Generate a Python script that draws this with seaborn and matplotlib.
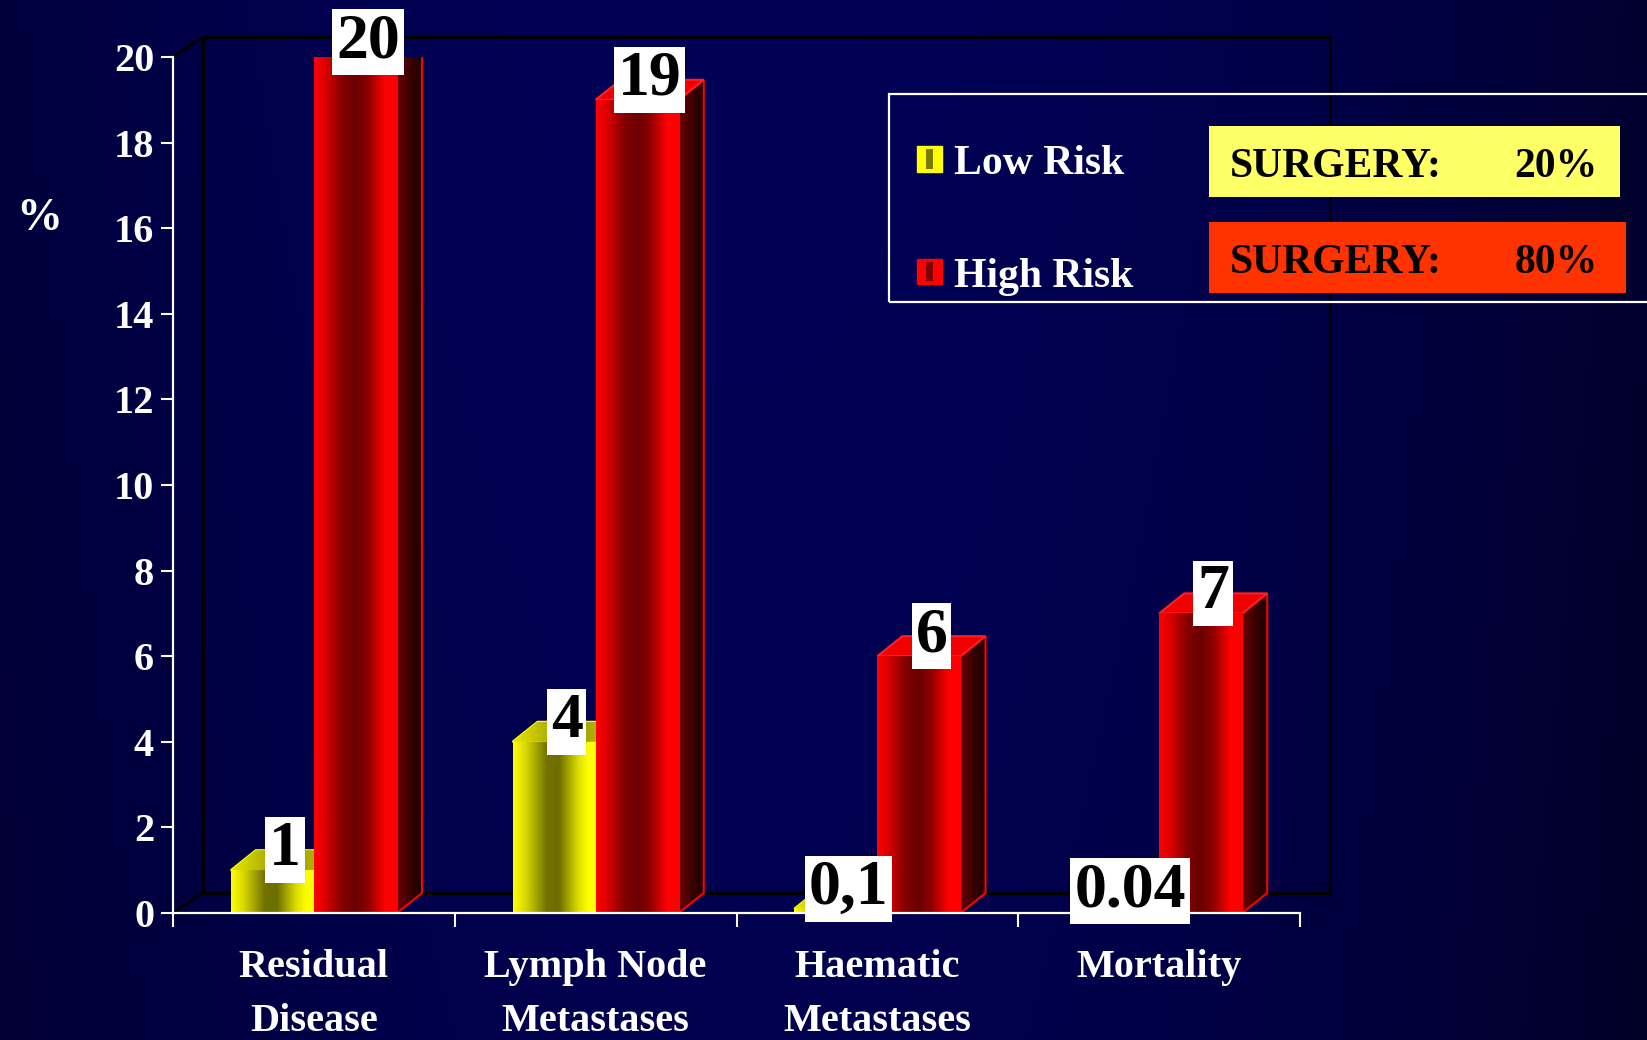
import numpy as np
import pandas as pd
import matplotlib
matplotlib.use("Agg")
import matplotlib.pyplot as plt
import seaborn as sns
from matplotlib.patches import Rectangle, Polygon
from matplotlib.colors import LinearSegmentedColormap
from matplotlib.lines import Line2D

# ---------------- data ----------------
categories = ["Residual\nDisease", "Lymph Node\nMetastases", "Haematic\nMetastases", "Mortality"]
series_names = ["Low Risk", "High Risk"]
low_risk = [1, 4, 0.1, 0.04]
high_risk = [20, 19, 6, 7]
low_labels = ["1", "4", "0,1", "0.04"]
high_labels = ["20", "19", "6", "7"]
surgery_share = ["20%", "80%"]
surgery_text = "SURGERY:"
y_ticks = [0, 2, 4, 6, 8, 10, 12, 14, 16, 18, 20]
y_label = "%"

df = pd.DataFrame({
    "category": categories * 2,
    "value": low_risk + high_risk,
    "risk": [series_names[0]] * len(categories) + [series_names[1]] * len(categories),
})

# ---------------- style ----------------
sns.set_theme(style="white")
plt.rcParams["font.family"] = ["Liberation Serif", "DejaVu Serif"]
plt.rcParams["font.weight"] = "bold"

W, H = 1647, 1040
fig = plt.figure(figsize=(W / 100, H / 100), dpi=100)
fig.patch.set_facecolor("#000040")

def fx(x):
    return x / W

def fy(y):
    return 1 - y / H

# background gradient
bg = fig.add_axes([0, 0, 1, 1], zorder=-10)
xs = np.linspace(0, 1, 500)
ys = np.linspace(0, 1, 300)
X, Y = np.meshgrid(xs, ys)
blue = 0x57 - 0x28 * ((X - 0.45) / 0.55) ** 2 - 0x08 * Y
img = np.zeros((len(ys), len(xs), 3))
img[..., 2] = np.clip(blue, 0, 255) / 255.0
bg.imshow(img, extent=[0, 1, 0, 1], aspect="auto", interpolation="bilinear")
bg.set_axis_off()

# main axes
AX_L, AX_R, AX_T, AX_B = 173, 1300, 57, 913
ax = fig.add_axes([fx(AX_L), fy(AX_B), (AX_R - AX_L) / W, (AX_B - AX_T) / H])
ax.set_facecolor("none")

YELLOW, RED = "#ffff00", "#ff0000"
sns.barplot(data=df, x="category", y="value", hue="risk", order=categories,
            hue_order=series_names, palette=[YELLOW, RED], width=0.59,
            saturation=1, legend=False, ax=ax, linewidth=0, zorder=3)
ax.set_xlim(-0.5, len(categories) - 0.5)
ax.set_ylim(0, 20)

# pixel -> data offsets for 3D depth
p00 = ax.transData.transform((0, 0))
p11 = ax.transData.transform((1, 1))
ppx = p11[0] - p00[0]
ppy = p11[1] - p00[1]
DX_PX, DY_PX = 25, 20
dx = DX_PX / ppx
dy = DY_PX / ppy

cm = {
    "yf": LinearSegmentedColormap.from_list("yf", [(0, "#ffff00"), (0.15, "#d8d800"), (0.4, "#727200"),
                                                  (0.55, "#6e6e00"), (0.78, "#dede00"), (0.9, "#ffff00"), (1, "#ffff00")]),
    "rf": LinearSegmentedColormap.from_list("rf", [(0, "#ff0000"), (0.12, "#e00000"), (0.35, "#800000"),
                                                  (0.5, "#6a0000"), (0.65, "#900000"), (0.85, "#ff0000"), (1, "#ff0000")]),
    "ys": LinearSegmentedColormap.from_list("ys", [(0, "#6a6a00"), (0.5, "#404000"), (1, "#202000")]),
    "rs": LinearSegmentedColormap.from_list("rs", [(0, "#700000"), (0.5, "#3c0000"), (1, "#1a0000")]),
    "yt": LinearSegmentedColormap.from_list("yt", [(0, "#e8e800"), (0.5, "#909000"), (1, "#d0d000")]),
}
grad = np.linspace(0, 1, 256)[np.newaxis, :]

bar_patches = [p for p in ax.patches if isinstance(p, Rectangle)]

for p in bar_patches:
    fc = p.get_facecolor()
    is_red = fc[1] < 0.5
    base_z = 5 if is_red else 2
    x0, w, h = p.get_x(), p.get_width(), p.get_height()
    x1 = x0 + w
    p.set_zorder(base_z + 1)
    # front gradient
    im = ax.imshow(grad, cmap=cm["rf" if is_red else "yf"], extent=(x0, x1, 0, h),
                   aspect="auto", interpolation="bilinear", zorder=base_z + 1.1)
    im.set_clip_path(p)
    # side face
    side = Polygon([(x1, 0), (x1 + dx, dy), (x1 + dx, h + dy), (x1, h)], closed=True,
                   facecolor="#400000" if is_red else "#404000", edgecolor="none", zorder=base_z)
    ax.add_patch(side)
    ims = ax.imshow(grad, cmap=cm["rs" if is_red else "ys"], extent=(x1, x1 + dx, 0, h + dy),
                    aspect="auto", interpolation="bilinear", zorder=base_z + 0.05)
    ims.set_clip_path(side)
    ax.add_patch(Polygon([(x1, 0), (x1 + dx, dy), (x1 + dx, h + dy), (x1, h)], closed=True,
                         fill=False, edgecolor=RED if is_red else YELLOW, linewidth=1.5,
                         zorder=base_z + 0.1))
    # top face
    top = Polygon([(x0, h), (x0 + dx, h + dy), (x1 + dx, h + dy), (x1, h)], closed=True,
                  facecolor="#f00000" if is_red else "#c8c800",
                  edgecolor="#ff2020" if is_red else YELLOW, linewidth=1.5, zorder=base_z + 0.2)
    ax.add_patch(top)
    if not is_red:
        imt = ax.imshow(grad, cmap=cm["yt"], extent=(x0, x1 + dx, h, h + dy),
                        aspect="auto", interpolation="bilinear", zorder=base_z + 0.25)
        imt.set_clip_path(top)

# value labels
for p in bar_patches:
    fc = p.get_facecolor()
    is_red = fc[1] < 0.5
    x0, w, h = p.get_x(), p.get_width(), p.get_height()
    cx = x0 + w / 2
    cat_i = int(round(cx + (-0.1475 if is_red else 0.1475)))
    txt = high_labels[cat_i] if is_red else low_labels[cat_i]
    py = ax.transData.transform((cx, h))[1]
    avail = (H - 42) - py
    off_px = min(20, avail)
    ax.annotate(txt, xy=(cx + dx / 2, h), xytext=(0, off_px * 0.72), textcoords="offset points",
                ha="center", va="center", fontsize=46, fontweight="bold", color="black",
                bbox=dict(boxstyle="square,pad=0.06", facecolor="white", edgecolor="none"),
                zorder=20, annotation_clip=False)

ax.set_xlim(-0.5, len(categories) - 0.5)
ax.set_ylim(0, 20)
ax.set_aspect("auto")

# axes styling
for s in ["top", "right"]:
    ax.spines[s].set_visible(False)
for s in ["left", "bottom"]:
    ax.spines[s].set_color("white")
    ax.spines[s].set_linewidth(1.6)
    ax.spines[s].set_zorder(9)
ax.set_yticks(y_ticks)
ax.set_yticklabels([str(t) for t in y_ticks])
ax.tick_params(axis="y", colors="white", labelsize=29, length=8.6, width=1.5, pad=5, left=True)
ax.set_xticks(range(len(categories)))
ax.set_xticklabels(categories, linespacing=1.6)
ax.set_xticks(np.arange(-0.5, len(categories)), minor=True)
ax.tick_params(axis="x", which="major", length=0, colors="white", labelsize=29, pad=26)
ax.tick_params(axis="x", which="minor", length=10, width=1.5, color="white", bottom=True)
for t in ax.get_xticklabels() + ax.get_yticklabels():
    t.set_fontweight("bold")
ax.set_xlabel("")
ax.set_ylabel("")

# back wall (offset of the plotting box)
WX, WY = 30, 20
def axpt(ax_fx, ax_fy, ox=0, oy=0):
    d = ax.transAxes.transform((ax_fx, ax_fy))
    return ((d[0] + ox) / W, (d[1] + oy) / H)

wall_lines = [
    (axpt(0, 1, WX, WY), axpt(1, 1, WX, WY)),
    (axpt(1, 1, WX, WY), axpt(1, 0, WX, WY)),
    (axpt(0, 0, WX, WY), axpt(1, 0, WX, WY)),
    (axpt(0, 0, WX, WY), axpt(0, 1, WX, WY)),
    (axpt(0, 1), axpt(0, 1, WX, WY)),
    (axpt(0, 0), axpt(0, 0, WX, WY)),
]
for a, b in wall_lines:
    fig.add_artist(Line2D([a[0], b[0]], [a[1], b[1]], transform=fig.transFigure,
                          color="black", linewidth=2.2, zorder=-1))

# % label
fig.text(fx(39), fy(219), y_label, ha="center", va="center", fontsize=33,
         fontweight="bold", color="white")

# legend box
fig.add_artist(Rectangle((fx(889), fy(302)), (1700 - 889) / W, (302 - 94) / H,
                         transform=fig.transFigure, fill=False, edgecolor="white",
                         linewidth=1.6, zorder=30, clip_on=False))
handle_specs = [(YELLOW, "#7a7a00", 146, 172, 174), (RED, "#800000", 259, 284, 287)]
for (col, inner, y0, y1, base), name in zip(handle_specs, series_names):
    fig.add_artist(Rectangle((fx(917), fy(y1)), 25 / W, (y1 - y0) / H, transform=fig.transFigure,
                             facecolor=col, edgecolor=col, linewidth=1, zorder=31))
    fig.add_artist(Rectangle((fx(926), fy(y1 - 3)), 7 / W, (y1 - y0 - 6) / H, transform=fig.transFigure,
                             facecolor=inner, edgecolor="none", zorder=32))
    fig.text(fx(954), fy(base), name, ha="left", va="baseline", fontsize=30,
             fontweight="bold", color="white", zorder=32)

# surgery boxes
surg_specs = [("#ffff66", 1209, 1620, 126, 197, 177), ("#ff3300", 1209, 1626, 222, 293, 273)]
for (col, x0, x1, y0, y1, base), share in zip(surg_specs, surgery_share):
    fig.add_artist(Rectangle((fx(x0), fy(y1)), (x1 - x0) / W, (y1 - y0) / H, transform=fig.transFigure,
                             facecolor=col, edgecolor="none", zorder=31))
    fig.text(fx(1230), fy(base), surgery_text, ha="left", va="baseline", fontsize=30,
             fontweight="bold", color="black", zorder=33)
    fig.text(fx(1598), fy(base), share, ha="right", va="baseline", fontsize=30,
             fontweight="bold", color="black", zorder=33)

fig.savefig("out.png", dpi=100, facecolor=fig.get_facecolor())
